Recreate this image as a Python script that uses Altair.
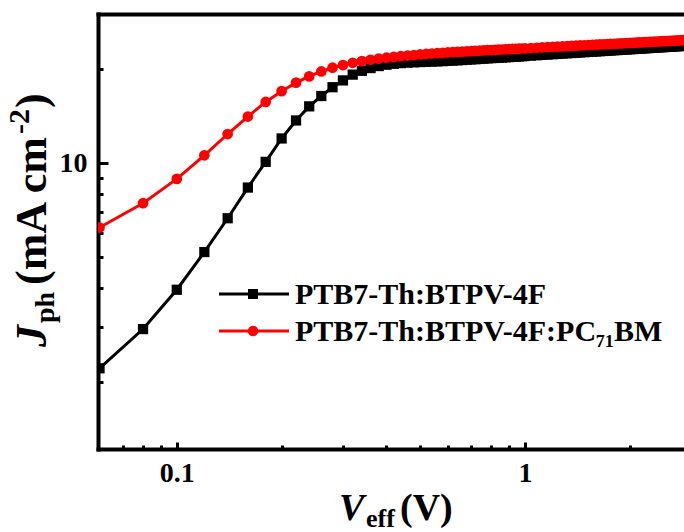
import altair as alt
import pandas as pd

SERIES = ["PTB7-Th:BTPV-4F", "PTB7-Th:BTPV-4F:PC₇₁BM"]

veff = [0.06, 0.08, 0.10, 0.12, 0.14, 0.16, 0.18, 0.20, 0.22, 0.24, 0.26, 0.28, 0.30, 0.32,
        0.34, 0.36, 0.38, 0.40, 0.42, 0.44, 0.46, 0.48, 0.50, 0.52, 0.54, 0.56, 0.58, 0.60,
        0.62, 0.64, 0.66, 0.68, 0.70, 0.72, 0.74, 0.76, 0.78, 0.80, 0.82, 0.84, 0.86, 0.88,
        0.90, 0.92, 0.94, 0.96, 0.98, 1.00,
        1.04, 1.08, 1.12, 1.16, 1.20, 1.24, 1.28, 1.32, 1.36, 1.40, 1.44, 1.48, 1.52, 1.56,
        1.60, 1.64, 1.68, 1.72, 1.76, 1.80, 1.84, 1.88, 1.92, 1.96, 2.00, 2.04, 2.08, 2.12,
        2.16, 2.20, 2.24, 2.28, 2.32, 2.36, 2.40, 2.44, 2.48, 2.52, 2.56, 2.60, 2.64, 2.68,
        2.72, 2.76, 2.80, 2.84, 2.88]

jph_btpv = [2.21, 2.95, 3.94, 5.20, 6.67, 8.36, 10.1, 12.0, 13.7, 15.2, 16.4, 17.5, 18.4, 19.2,
            19.75, 20.15, 20.45, 20.65, 20.8, 20.9, 20.97, 21.02, 21.06, 21.1, 21.13, 21.17, 21.2, 21.24,
            21.29, 21.33, 21.38, 21.43, 21.47, 21.51, 21.55, 21.6, 21.64, 21.68, 21.71, 21.75, 21.78, 21.81,
            21.85, 21.88, 21.91, 21.95, 21.98, 22.02,
            22.08, 22.14, 22.20, 22.25, 22.31, 22.36, 22.41, 22.46, 22.51, 22.56, 22.60, 22.65, 22.69, 22.73,
            22.77, 22.81, 22.85, 22.89, 22.93, 22.97, 23.00, 23.04, 23.07, 23.11, 23.14, 23.17, 23.20, 23.24,
            23.27, 23.30, 23.33, 23.36, 23.39, 23.41, 23.44, 23.47, 23.50, 23.52, 23.55, 23.58, 23.60, 23.63,
            23.65, 23.68, 23.70, 23.73, 23.75]

jph_pc71 = [6.23, 7.45, 8.91, 10.6, 12.4, 14.1, 15.7, 17.0, 18.1, 18.95, 19.65, 20.2, 20.6, 20.95,
            21.2, 21.42, 21.6, 21.75, 21.88, 21.99, 22.09, 22.18, 22.27, 22.35, 22.42, 22.48, 22.54, 22.6,
            22.65, 22.7, 22.74, 22.79, 22.83, 22.87, 22.91, 22.94, 22.98, 23.01, 23.04, 23.07, 23.1, 23.13,
            23.16, 23.19, 23.22, 23.25, 23.27, 23.30,
            23.35, 23.40, 23.45, 23.50, 23.55, 23.59, 23.63, 23.68, 23.72, 23.76, 23.80, 23.83, 23.87, 23.91,
            23.94, 23.97, 24.01, 24.04, 24.07, 24.10, 24.13, 24.16, 24.19, 24.22, 24.25, 24.27, 24.30, 24.33,
            24.35, 24.38, 24.40, 24.43, 24.45, 24.48, 24.50, 24.52, 24.55, 24.57, 24.59, 24.61, 24.63, 24.66,
            24.68, 24.70, 24.72, 24.74, 24.76]

x_minor_ticks = [0.07, 0.08, 0.09, 0.2, 0.3, 0.4, 0.5, 0.6, 0.7, 0.8, 0.9, 2]
x_major_ticks = [0.1, 1]
y_minor_ticks = [2, 3, 4, 5, 6, 7, 8, 9, 20]
y_major_ticks = [10]

n = len(veff)
df = pd.DataFrame({
    "Veff": veff + veff,
    "Jph": jph_btpv + jph_pc71,
    "series": [SERIES[0]] * n + [SERIES[1]] * n,
})
legend_df = pd.DataFrame({"series": SERIES})

FONT = "Liberation Serif"
W, H = 586, 435

xscale = alt.Scale(type="log", domain=[0.0594, 2.86])
yscale = alt.Scale(type="log", domain=[1.22, 30])
color_scale = alt.Scale(domain=SERIES, range=["#000000", "#ff0000"])
shape_scale = alt.Scale(domain=SERIES, range=["square", "circle"])
size_scale = alt.Scale(domain=SERIES, range=[100, 110])
# legend rows (pixel rows inside the plot area)
legend_rows = alt.Scale(type="point", domain=SERIES, range=[280, 317], padding=0)

common_axis = dict(title=None, grid=False, tickColor="black", tickWidth=3,
                   labelFont=FONT, labelFontWeight="bold", labelFontSize=28,
                   labelColor="black", labelOverlap=False, labelFlush=False)

x_minor = alt.Axis(orient="bottom", values=x_minor_ticks, labels=False,
                   domain=True, domainColor="black", domainWidth=4, domainCap="square",
                   tickSize={"expr": "-4"}, **common_axis)
x_major = alt.Axis(orient="bottom", values=x_major_ticks, format="~g", domain=False,
                   tickSize={"expr": "-7"}, labelPadding=17, **common_axis)
y_minor = alt.Axis(orient="left", values=y_minor_ticks, labels=False,
                   domain=True, domainColor="black", domainWidth=4, domainCap="square",
                   tickSize={"expr": "-5"}, **common_axis)
y_major = alt.Axis(orient="left", values=y_major_ticks, format="~g", domain=False,
                   tickSize={"expr": "-10"}, labelPadding=21, **common_axis)
top_axis = alt.Axis(orient="top", labels=False, ticks=False, title=None, grid=False,
                    domainColor="black", domainWidth=4, domainCap="square")

base = alt.Chart(df)
black = base.transform_filter(alt.datum.series == SERIES[0])
red = base.transform_filter(alt.datum.series == SERIES[1])

black_line = black.mark_line(strokeWidth=3, clip=True).encode(
    x=alt.X("Veff:Q", scale=xscale, axis=x_minor),
    y=alt.Y("Jph:Q", scale=yscale, axis=y_minor),
    color=alt.Color("series:N", scale=color_scale, legend=None),
)
black_pts = black.mark_point(shape="square", filled=True, size=105, opacity=1, clip=True).encode(
    x=alt.X("Veff:Q", scale=xscale, axis=x_major),
    y=alt.Y("Jph:Q", scale=yscale, axis=y_major),
    color=alt.Color("series:N", scale=color_scale, legend=None),
)
red_line = red.mark_line(strokeWidth=3, clip=True).encode(
    x=alt.X("Veff:Q", scale=xscale, axis=top_axis),
    y=alt.Y("Jph:Q", scale=yscale, axis=None),
    color=alt.Color("series:N", scale=color_scale, legend=None),
)
red_pts = red.mark_point(shape="circle", filled=True, size=115, opacity=1, clip=True).encode(
    x=alt.X("Veff:Q", scale=xscale, axis=None),
    y=alt.Y("Jph:Q", scale=yscale, axis=None),
    color=alt.Color("series:N", scale=color_scale, legend=None),
)

# legend: line segment + marker + label per series
leg = alt.Chart(legend_df)
leg_y = alt.Y("series:N", scale=legend_rows, axis=None)
leg_line = leg.mark_rule(strokeWidth=3).encode(
    x=alt.value(121), x2=alt.value(191), y=leg_y,
    color=alt.Color("series:N", scale=color_scale, legend=None),
)
leg_pts = leg.mark_point(filled=True, opacity=1).encode(
    x=alt.value(155), y=leg_y,
    color=alt.Color("series:N", scale=color_scale, legend=None),
    shape=alt.Shape("series:N", scale=shape_scale, legend=None),
    size=alt.Size("series:N", scale=size_scale, legend=None),
)
leg_text = leg.mark_text(font=FONT, fontWeight="bold", fontSize=30, align="left",
                         baseline="middle", color="black", dy=1).encode(
    x=alt.value(197), y=leg_y, text="series:N",
)


def label(text, x, y, size, italic=False, angle=0):
    kw = dict(font=FONT, fontWeight="bold", fontSize=size, align="left",
              baseline="alphabetic", color="black")
    if italic:
        kw["fontStyle"] = "italic"
    if angle:
        kw["angle"] = angle
    return alt.Chart(pd.DataFrame({"t": [text]})).mark_text(**kw).encode(
        text="t:N", x=alt.value(x), y=alt.value(y))


# title pieces (plot coordinates; origin at the plot's top-left corner)
titles = [
    label("V", 241, 506, 38, italic=True),
    label("eff", 268, 513, 26),
    label("(V)", 302, 506, 38),
    label("J", -52, 333, 44, italic=True, angle=270),
    label("ph", -44, 309, 28, angle=270),
    label("(mA cm", -52, 271, 44, angle=270),
    label("-2", -69, 120, 30, angle=270),
    label(")", -52, 94, 44, angle=270),
]

chart = alt.layer(black_line, black_pts, red_line, red_pts, leg_line, leg_pts, leg_text,
                  *titles).resolve_axis(
    x="independent", y="independent"
).resolve_scale(y="independent").properties(
    width=W, height=H,
    padding={"left": 98, "top": 14, "right": 0, "bottom": 83},
    autosize=alt.AutoSizeParams(type="none"),
).configure_view(stroke=None)

chart.save("out.html", embed_options={"renderer": "svg", "actions": False})
